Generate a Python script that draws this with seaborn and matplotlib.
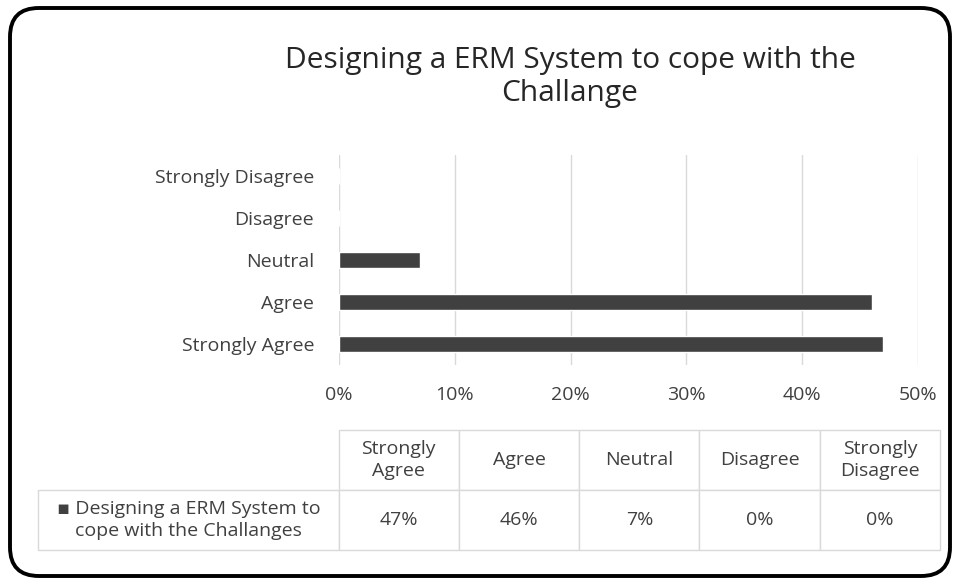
import matplotlib
matplotlib.use("Agg")
import matplotlib.pyplot as plt
from matplotlib.patches import FancyBboxPatch
import seaborn as sns
import pandas as pd

# data
categories = ["Strongly Agree", "Agree", "Neutral", "Disagree", "Strongly Disagree"]
values = [47, 46, 7, 0, 0]
series_name = "Designing a ERM System to cope with the Challanges"
title = "Designing a ERM System to cope with the\nChallange"
xticks = [0, 10, 20, 30, 40, 50]

sns.set_theme(style="white")
plt.rcParams['font.family'] = ['Open Sans', 'DejaVu Sans']
text_col = "#404040"
fs = 14

df = pd.DataFrame({"category": categories, "value": values})

fig = plt.figure(figsize=(9.6, 5.85), dpi=100)
ax = fig.add_axes([339 / 960, 1 - 365 / 585, (918 - 339) / 960, 210 / 585])

sns.barplot(data=df, x="value", y="category", order=categories[::-1],
            color="#404040", saturation=1, width=0.4, orient="h", ax=ax)

ax.set_xlim(0, 50)
ax.set_xticks(xticks)
ax.set_xticklabels([f"{t}%" for t in xticks])
ax.set_xlabel("")
ax.set_ylabel("")
ax.grid(axis="x", color="#d9d9d9", linewidth=1)
ax.set_axisbelow(True)
for s in ax.spines.values():
    s.set_visible(False)
ax.tick_params(axis="y", length=0, pad=18, labelsize=fs, labelcolor=text_col)
ax.tick_params(axis="x", length=0, pad=15, labelsize=fs, labelcolor=text_col)

fig.text(570 / 960, 1 - 77 / 585, title, ha="center", va="center",
         fontsize=21.5, color="#262626", linespacing=1.2)

# data table below
header = [c.replace(" ", "\n") if c.startswith("Strongly") else c for c in categories]
label = "\u25aa Designing a ERM System to\ncope with the Challanges"
cell_text = [[""] + header, [label] + [f"{v}%" for v in values]]
tbl = ax.table(cellText=cell_text, cellLoc="center",
               bbox=[(38 - 339) / 579, (365 - 550) / 210, (940 - 38) / 579, 120 / 210])
tbl.auto_set_font_size(False)
for (r, c), cell in tbl.get_celld().items():
    cell.set_edgecolor("#d9d9d9")
    cell.set_linewidth(1)
    txt = cell.get_text()
    txt.set_fontsize(fs)
    txt.set_color(text_col)
    txt.set_linespacing(1.25)
    txt.set_multialignment("center")
    cell.set_width(300 if c == 0 else 120)
    if r == 0 and c == 0:
        cell.visible_edges = ""

# rounded frame
frame = FancyBboxPatch((10 / 960, 9 / 585), 940 / 960, 568 / 585,
                       boxstyle="round,pad=0,rounding_size=0.03",
                       transform=fig.transFigure, fill=False,
                       edgecolor="black", linewidth=2.8,
                       mutation_aspect=960 / 585)
fig.patches.append(frame)

fig.savefig("out.png", dpi=100)
